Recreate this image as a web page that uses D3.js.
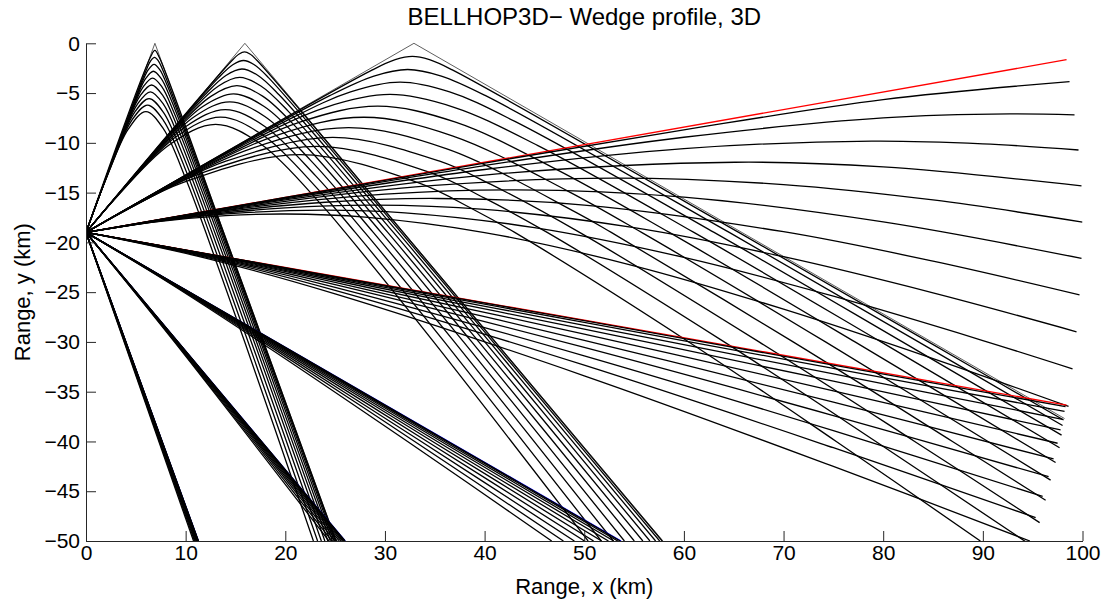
<!DOCTYPE html>
<html lang="en">
<head>
<meta charset="UTF-8">
<title>BELLHOP3D - Wedge profile, 3D</title>
<script src="https://d3js.org/d3.v7.min.js"></script>
<style>
  html, body { margin: 0; padding: 0; background: #fff; overflow: hidden; }
  svg { display: block; }
  text { font-family: "Liberation Sans", Arial, Helvetica, sans-serif; fill: #000; }
</style>
</head>
<body>
<svg width="1109" height="605" id="mainsvg"></svg>
<script>
// source position, km
const source = [0, -19]
const xTicks = [0, 10, 20, 30, 40, 50, 60, 70, 80, 90, 100]
const yTicks = [0, -5, -10, -15, -20, -25, -30, -35, -40, -45, -50]

// ray fans, one per launch bearing; each ray is the list of points after the source
// bearing +70
const fan70 = [
  [[6.915,0],[25.11,-50]],
  [[6.46,-1.41],[6.91,-0.71],[7.35,-1.41],[13.81,-19],[17.82,-30],[25.09,-50]],
  [[5.99,-2.82],[6.49,-1.76],[6.88,-1.41],[7.26,-1.76],[7.76,-2.82],[13.75,-19],[17.75,-30],[25.02,-50]],
  [[5.51,-4.22],[6.26,-2.64],[6.83,-2.11],[7.40,-2.64],[8.15,-4.22],[13.66,-19],[17.65,-30],[24.90,-50]],
  [[5.01,-5.62],[6.01,-3.51],[6.76,-2.81],[7.52,-3.51],[8.52,-5.62],[13.53,-19],[17.52,-30],[24.73,-50]],
  [[4.51,-7.01],[5.74,-4.38],[6.68,-3.50],[7.62,-4.38],[8.85,-7.01],[13.36,-19],[17.34,-30],[24.52,-50]],
  [[4.00,-8.38],[5.46,-5.24],[6.58,-4.19],[7.70,-5.24],[9.16,-8.38],[13.16,-19],[17.12,-30],[24.27,-50]],
  [[3.49,-9.75],[5.18,-6.09],[6.46,-4.87],[7.75,-6.09],[9.43,-9.75],[12.92,-19],[16.88,-30],[23.97,-50]],
  [[2.98,-11.09],[4.88,-6.93],[6.33,-5.55],[7.77,-6.93],[9.67,-11.09],[12.65,-19],[16.59,-30],[23.62,-50]],
  [[2.48,-12.42],[4.58,-7.76],[6.18,-6.21],[7.78,-7.76],[9.88,-12.42],[12.35,-19],[16.27,-30],[23.24,-50]],
  [[1.98,-13.72],[4.27,-8.58],[6.01,-6.86],[7.76,-8.58],[10.05,-13.72],[12.03,-19],[15.93,-30],[22.82,-50]]
]
// bearing +50
const fan50 = [
  [[15.943,0],[57.90,-50]],
  [[14.65,-1.73],[15.37,-1.08],[15.91,-0.87],[16.45,-1.08],[17.17,-1.73],[31.82,-19],[41.05,-30],[57.82,-50]],
  [[13.31,-3.45],[14.73,-2.16],[15.81,-1.73],[16.89,-2.16],[18.31,-3.45],[31.62,-19],[40.84,-30],[57.57,-50]],
  [[11.93,-5.17],[14.04,-3.23],[15.65,-2.58],[17.26,-3.23],[19.37,-5.17],[31.30,-19],[40.50,-30],[57.16,-50]],
  [[10.52,-6.86],[13.30,-4.29],[15.42,-3.43],[17.55,-4.29],[20.33,-6.86],[30.85,-19],[40.02,-30],[56.59,-50]],
  [[9.11,-8.52],[12.53,-5.33],[15.14,-4.26],[17.76,-5.33],[21.18,-8.52],[30.28,-19],[39.42,-30],[55.88,-50]],
  [[7.69,-10.16],[11.72,-6.35],[14.80,-5.08],[17.88,-6.35],[21.92,-10.16],[29.61,-19],[38.71,-30],[55.02,-50]],
  [[6.29,-11.76],[10.90,-7.35],[14.42,-5.88],[17.94,-7.35],[22.54,-11.76],[28.83,-19],[37.89,-30],[54.03,-50]],
  [[4.92,-13.32],[10.06,-8.33],[13.98,-6.66],[17.91,-8.33],[23.05,-13.32],[27.97,-19],[36.97,-30],[52.92,-50]],
  [[3.59,-14.84],[9.21,-9.27],[13.51,-7.42],[17.81,-9.27],[23.44,-14.84],[27.02,-19],[35.97,-30],[51.71,-50]],
  [[2.30,-16.31],[8.37,-10.19],[13.01,-8.15],[17.64,-10.19],[23.71,-16.31],[26.01,-19],[34.89,-30],[50.39,-50]]
]
// bearing +30
const fan30 = [
  [[32.909,0],[98.2,-37.70]],
  [[28.79,-2.65],[31.03,-1.65],[32.75,-1.32],[34.47,-1.65],[36.71,-2.65],[65.50,-19],[84.54,-30],[98.1,-37.84]],
  [[24.46,-5.26],[28.89,-3.29],[32.28,-2.63],[35.66,-3.29],[40.10,-5.26],[64.55,-19],[83.54,-30],[98.0,-38.40]],
  [[20.04,-7.82],[26.55,-4.89],[31.52,-3.91],[36.49,-4.89],[42.99,-7.82],[63.03,-19],[81.93,-30],[97.9,-39.36]],
  [[15.65,-10.28],[24.07,-6.43],[30.50,-5.14],[36.93,-6.43],[45.35,-10.28],[61.00,-19],[79.78,-30],[97.7,-40.63]],
  [[11.39,-12.64],[21.53,-7.90],[29.27,-6.32],[37.01,-7.90],[47.15,-12.64],[58.54,-19],[77.17,-30],[97.3,-42.12]],
  [[7.35,-14.87],[18.99,-9.29],[27.87,-7.43],[36.76,-9.29],[48.40,-14.87],[55.75,-19],[74.21,-30],[96.8,-43.88]],
  [[3.59,-16.96],[16.50,-10.60],[26.36,-8.48],[36.21,-10.60],[49.12,-16.96],[52.71,-19],[70.96,-30],[86.95,-40],[96.3,-45.91]],
  [[8.89,-14.18],[14.11,-11.82],[24.77,-9.45],[35.42,-11.82],[40.64,-14.18],[49.53,-19],[67.54,-30],[83.16,-40],[95.7,-48.15]],
  [[6.33,-15.53],[11.86,-12.94],[23.14,-10.35],[34.42,-12.94],[39.95,-15.53],[46.28,-19],[64.04,-30],[79.26,-40],[94.4,-50.14]],
  [[4.00,-16.77],[9.77,-13.98],[21.51,-11.18],[33.26,-13.98],[39.02,-16.77],[43.02,-19],[60.49,-30],[75.29,-40],[89.75,-50]]
]
// bearing +10
const fan10 = [
  [[98.4,-1.65]],
  [[20,-15.49],[40,-12.03],[60,-8.69],[80,-5.66],[98.7,-3.85]],
  [[20,-15.54],[40,-12.28],[60,-9.44],[80,-7.50],[92.72,-7.10],[99.2,-7.20]],
  [[20,-15.62],[40,-12.68],[60,-10.58],[78.85,-9.83],[90,-10.10],[99.6,-10.72]],
  [[20,-15.74],[40,-13.24],[65.11,-11.95],[80,-12.42],[99.9,-14.32]],
  [[20,-15.88],[35,-14.28],[53.05,-13.54],[70,-14.19],[85,-15.74],[100,-17.96]],
  [[15,-16.67],[30,-15.16],[43.13,-14.72],[60,-15.45],[80,-17.95],[99.9,-21.61]],
  [[12,-17.16],[24,-15.97],[35.19,-15.59],[50,-16.25],[70,-18.93],[85,-21.89],[99.7,-25.28]],
  [[10,-17.48],[20,-16.53],[28.91,-16.25],[40,-16.69],[55,-18.52],[70,-21.44],[85,-25.07],[99.4,-28.98]],
  [[8,-17.79],[16,-17.02],[23.94,-16.76],[32,-17.03],[45,-18.52],[60,-21.51],[75,-25.41],[90,-29.86],[99.0,-32.70]],
  [[7,-17.95],[14,-17.32],[19.98,-17.15],[28,-17.46],[40,-19.01],[55,-22.35],[70,-26.71],[85,-31.67],[98.6,-36.48]]
]
// bearing -10
const fanM10 = [
  [[98.4,-36.35]],
  [[12,-21.12],[25,-23.43],[50,-27.87],[75,-32.33],[98.3,-36.50]],
  [[12,-21.13],[25,-23.48],[50,-28.04],[75,-32.66],[98.2,-36.98]],
  [[12,-21.16],[25,-23.56],[50,-28.33],[75,-33.21],[98.0,-37.77]],
  [[12,-21.18],[25,-23.68],[50,-28.72],[75,-33.95],[97.8,-38.84]],
  [[12,-21.22],[25,-23.83],[50,-29.22],[75,-34.91],[97.5,-40.18]],
  [[12,-21.27],[25,-24.02],[50,-29.84],[75,-36.06],[97.1,-41.76]],
  [[12,-21.33],[25,-24.25],[50,-30.56],[75,-37.40],[96.6,-43.54]],
  [[12,-21.40],[25,-24.51],[50,-31.40],[75,-38.92],[96.0,-45.52]],
  [[12,-21.48],[25,-24.82],[50,-32.34],[75,-40.63],[95.3,-47.65]],
  [[12,-21.58],[25,-25.17],[50,-33.40],[75,-42.51],[94.72,-50]]
]
// bearing -30
const fanM30 = [
  [[53.69,-50]],
  [[8.66,-24],[19.04,-30],[36.33,-40],[53.61,-50]],
  [[8.64,-24],[18.98,-30],[36.19,-40],[53.37,-50]],
  [[8.62,-24],[18.90,-30],[35.96,-40],[52.97,-50]],
  [[8.59,-24],[18.78,-30],[35.65,-40],[52.43,-50]],
  [[8.55,-24],[18.64,-30],[35.25,-40],[51.75,-50]],
  [[8.50,-24],[18.46,-30],[34.78,-40],[50.94,-50]],
  [[8.45,-24],[18.25,-30],[34.24,-40],[50.03,-50]],
  [[8.38,-24],[18.01,-30],[33.64,-40],[49.01,-50]],
  [[8.31,-24],[17.76,-30],[32.98,-40],[47.91,-50]],
  [[8.23,-24],[17.47,-30],[32.27,-40],[46.73,-50]]
]
// bearing -50
const fanM50 = [
  [[26.01,-50]],
  [[9.23,-30],[26.00,-50]],
  [[9.22,-30],[25.95,-50]],
  [[9.20,-30],[25.86,-50]],
  [[9.17,-30],[25.75,-50]],
  [[9.14,-30],[25.60,-50]],
  [[9.10,-30],[25.42,-50]],
  [[9.06,-30],[25.20,-50]],
  [[9.00,-30],[24.96,-50]],
  [[8.94,-30],[24.68,-50]],
  [[8.87,-30],[24.38,-50]]
]
// bearing -70
const fanM70 = [
  [[11.28,-50]], [[11.28,-50]], [[11.27,-50]], [[11.24,-50]], [[11.20,-50]], [[11.16,-50]],
  [[11.11,-50]], [[11.05,-50]], [[10.97,-50]], [[10.89,-50]], [[10.79,-50]]
]

const fans = [fan70, fan50, fan30, fan10, fanM10, fanM30, fanM50, fanM70]
// colour of the first (straight / reflected) ray of each fan
const leadColor = ['#4d4d4d', '#4d4d4d', '#4d4d4d', '#ff0000', '#ff0000', '#0000ff', '#0000ff', '#0000ff']

const svg = d3.select('#mainsvg')
const width = +svg.attr('width'), height = +svg.attr('height')
const margin = {top: 43.3, right: 26.5, bottom: 64, left: 86}
const innerWidth = width - margin.left - margin.right,
      innerHeight = height - margin.top - margin.bottom

svg.append('rect').attr('width', width).attr('height', height).attr('fill', '#fff')

const xScale = d3.scaleLinear().domain([0, 100]).range([0, innerWidth])
const yScale = d3.scaleLinear().domain([0, -50]).range([0, innerHeight])

const g = svg.append('g').attr('transform', `translate(${margin.left}, ${margin.top})`)

g.append('clipPath').attr('id', 'plotclip')
  .append('rect')
  .attr('x', 0).attr('y', -2)
  .attr('width', innerWidth).attr('height', innerHeight + 2)

const rays = g.append('g').attr('clip-path', 'url(#plotclip)')

const smoothLine = d3.line()
  .x(d => xScale(d[0])).y(d => yScale(d[1]))
  .curve(d3.curveCatmullRom.alpha(0.5))
const straightLine = d3.line()
  .x(d => xScale(d[0])).y(d => yScale(d[1]))

fans.forEach((fan, f) => {
  fan.forEach((ray, i) => {
    const pts = [source].concat(ray)
    rays.append('path')
      .attr('d', i === 0 ? straightLine(pts) : smoothLine(pts))
      .attr('fill', 'none')
      .attr('stroke', i === 0 ? leadColor[f] : '#000')
      .attr('stroke-width', i === 0 && f < 3 ? 0.9 : 1.3)
      .attr('stroke-linejoin', 'round')
  })
})

// axes, ticks pointing inwards like matlab
const xAxis = d3.axisBottom(xScale).tickValues(xTicks).tickFormat(d3.format('d'))
  .tickSizeInner(-10).tickSizeOuter(0).tickPadding(4)
const yAxis = d3.axisLeft(yScale).tickValues(yTicks).tickFormat(d3.format('d'))
  .tickSizeInner(-10).tickSizeOuter(0).tickPadding(6)

const gx = g.append('g').attr('transform', `translate(0, ${innerHeight})`).call(xAxis)
const gy = g.append('g').call(yAxis)
;[gx, gy].forEach(a => {
  a.attr('font-size', 21).attr('font-family', '"Liberation Sans", Arial, sans-serif')
  a.selectAll('path, line').attr('stroke', '#262626').attr('stroke-width', 1)
  a.selectAll('text').attr('fill', '#000')
})

svg.append('text')
  .attr('x', margin.left + innerWidth / 2).attr('y', 25)
  .attr('text-anchor', 'middle').attr('font-size', 24)
  .text('BELLHOP3D\u2212 Wedge profile, 3D')

svg.append('text')
  .attr('x', margin.left + innerWidth / 2).attr('y', 594)
  .attr('text-anchor', 'middle').attr('font-size', 22)
  .text('Range, x (km)')

svg.append('text')
  .attr('transform', `translate(30, ${margin.top + innerHeight / 2}) rotate(-90)`)
  .attr('text-anchor', 'middle').attr('font-size', 22)
  .text('Range, y (km)')
</script>
</body>
</html>
